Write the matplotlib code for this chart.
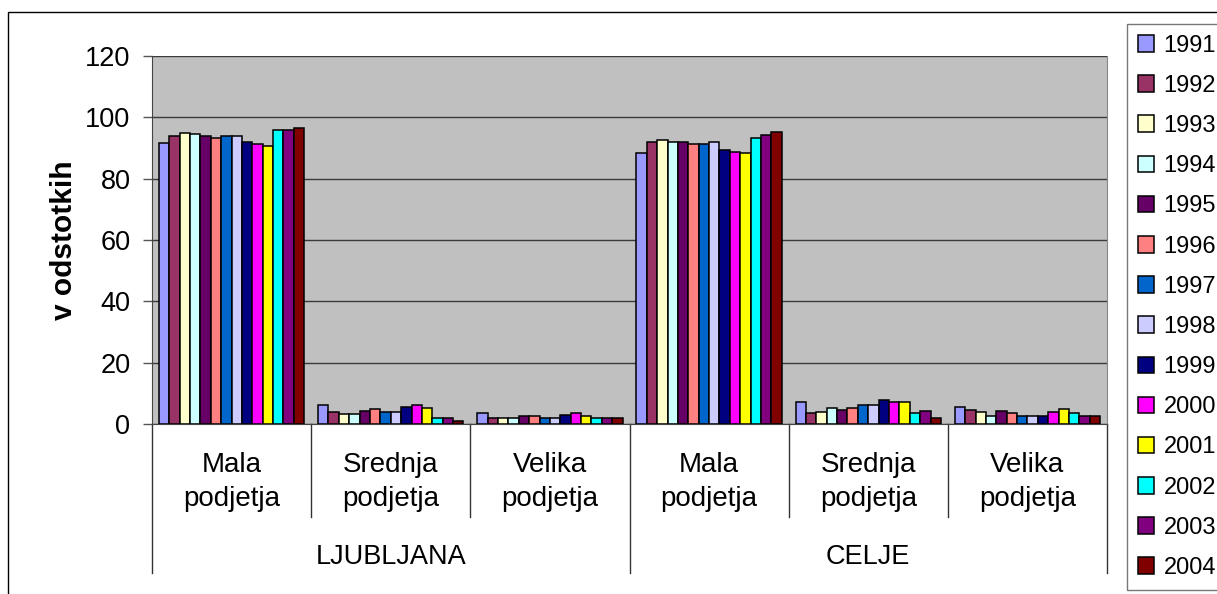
import numpy as np
import matplotlib
matplotlib.use('Agg')
from matplotlib import pyplot as plt
from matplotlib.patches import Rectangle, Patch
from matplotlib.transforms import blended_transform_factory

plt.rcParams['font.family'] = ['Liberation Sans', 'DejaVu Sans']

years = ['1991', '1992', '1993', '1994', '1995', '1996', '1997',
         '1998', '1999', '2000', '2001', '2002', '2003', '2004']
sizes = ['Mala\npodjetja', 'Srednja\npodjetja', 'Velika\npodjetja']
cities = ['LJUBLJANA', 'CELJE']

# values per group, one value per year (v odstotkih)
lj_mala    = [91.5, 94.0, 95.0, 94.5, 94.0, 93.2, 94.0, 94.0, 91.8, 91.2, 90.7, 95.8, 95.8, 96.4]
lj_srednja = [6.1, 3.9, 3.3, 3.3, 4.1, 4.8, 3.9, 3.9, 5.4, 6.1, 5.2, 2.0, 2.0, 1.1]
lj_velika  = [3.5, 1.9, 1.8, 1.9, 2.5, 2.5, 1.9, 1.9, 2.8, 3.5, 2.5, 1.9, 1.9, 1.9]
ce_mala    = [88.3, 92.0, 92.6, 91.9, 91.9, 91.3, 91.3, 91.9, 89.4, 88.8, 88.3, 93.2, 94.1, 95.1]
ce_srednja = [7.2, 3.5, 3.9, 5.2, 4.5, 5.2, 6.1, 6.1, 7.9, 7.1, 7.1, 3.5, 4.1, 2.0]
ce_velika  = [5.4, 4.6, 3.9, 2.5, 4.1, 3.5, 2.5, 2.5, 2.5, 4.0, 4.8, 3.5, 2.5, 2.5]

colors = ['#9999FF', '#993366', '#FFFFCC', '#CCFFFF', '#660066', '#FF8080', '#0066CC',
          '#CCCCFF', '#000080', '#FF00FF', '#FFFF00', '#00FFFF', '#800080', '#800000']

data = np.array([lj_mala, lj_srednja, lj_velika, ce_mala, ce_srednja, ce_velika])
ngroups, nyears = data.shape

W, H = 1217, 594
fig = plt.figure(figsize=(W / 100, H / 100), dpi=100)
ax = fig.add_axes([152 / W, 1 - 424 / H, (1107 - 152) / W, (424 - 56) / H])

# outer chart border (cut at right and bottom as in the picture)
fig.patches.append(Rectangle((8 / W, -0.1), 1.2, 1.1 - 12 / H, transform=fig.transFigure,
                             fill=False, edgecolor='black', linewidth=1.0))

ax.set_facecolor('#C0C0C0')
x = np.arange(ngroups)
bw = 0.0652
for i in range(nyears):
    off = (i - (nyears - 1) / 2) * bw
    ax.bar(x + off, data[:, i], width=bw, color=colors[i], edgecolor='black',
           linewidth=1.1, zorder=3)

ax.set_xlim(-0.5, ngroups - 0.5)
ax.set_ylim(0, 120)
ax.set_yticks(np.arange(0, 121, 20))
ax.yaxis.grid(True, color='#3a3a3a', linewidth=1.0, zorder=1)
ax.tick_params(axis='y', labelsize=19.5, length=6.5, width=1, color='#555555', pad=9)
ax.set_xticks([])
ax.spines['top'].set_visible(False)
ax.spines['left'].set_color('#444444')
ax.spines['bottom'].set_color('#444444')
ax.spines['right'].set_color('#888888')
ax.set_ylabel('v odstotkih', fontsize=21.5, fontweight='bold', labelpad=5)

# two-level category axis
tr = blended_transform_factory(ax.transData, ax.transAxes)
axh = 424 - 56
for b in np.arange(-0.5, ngroups, 1.0):
    depth = 149 if (b + 0.5) % 3 == 0 else 93
    ax.plot([b, b], [0, -depth / axh], transform=tr, color='#333333', linewidth=1.0,
            clip_on=False)
for j in range(ngroups):
    ax.text(x[j], -58 / axh, sizes[j % 3], transform=tr, ha='center', va='center',
            fontsize=20, linespacing=1.35)
for k, c in enumerate(cities):
    ax.text(1 + 3 * k, -133 / axh, c, transform=tr, ha='center', va='center', fontsize=19.5)

handles = [Patch(facecolor=colors[i], edgecolor='black', linewidth=1.1) for i in range(nyears)]
leg = fig.legend(handles, years, loc='upper left', bbox_to_anchor=(1127 / W, 1 - 24 / H),
                 fontsize=17, frameon=True, fancybox=False, edgecolor='#555555',
                 handlelength=0.7, handleheight=0.7, handletextpad=0.4,
                 labelspacing=0.77, borderpad=0.45, borderaxespad=0)
leg.get_frame().set_linewidth(1.0)

fig.savefig('out.png', dpi=100)
